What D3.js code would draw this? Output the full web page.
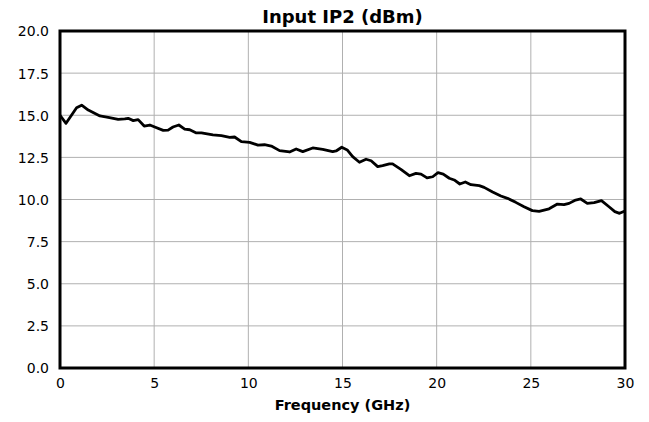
<!DOCTYPE html>
<html>
<head>
<meta charset="utf-8">
<script src="https://cdn.jsdelivr.net/npm/d3@7"></script>
<style>
  body { margin: 0; background: #fff; }
  text { font-family: "DejaVu Sans", sans-serif; }
</style>
</head>
<body>
<div id="chart"></div>
<script>
var svgWidth = 649;
var svgHeight = 422;

var margin = { top: 31, right: 24, bottom: 54, left: 60 };

var width = svgWidth - margin.left - margin.right;
var height = svgHeight - margin.top - margin.bottom;

// data
var freq = [0, 0.32, 0.88, 1.15, 1.5, 2.12, 2.56, 3.09, 3.44, 3.62, 3.89, 4.15, 4.47, 4.77, 5.03,
    5.48, 5.74, 6.0, 6.31, 6.62, 6.89, 7.24, 7.51, 8.12, 8.57, 9.01, 9.27, 9.63, 10.07, 10.51,
    10.86, 11.22, 11.66, 12.19, 12.54, 12.89, 13.42, 13.95, 14.48, 14.66, 14.96, 15.25, 15.54,
    15.9, 16.25, 16.52, 16.87, 17.13, 17.49, 17.66, 18.1, 18.55, 18.9, 19.17, 19.49, 19.79,
    20.07, 20.35, 20.67, 20.93, 21.23, 21.52, 21.82, 22.26, 22.52, 22.97, 23.41, 23.76, 24.2,
    24.64, 25.08, 25.44, 25.97, 26.41, 26.76, 27.03, 27.38, 27.65, 28.0, 28.36, 28.75, 29.15,
    29.46, 29.71, 30.0];
var ip2 = [15.0, 14.52, 15.45, 15.6, 15.31, 14.96, 14.88, 14.76, 14.78, 14.82, 14.68, 14.74, 14.36, 14.42, 14.3,
    14.1, 14.12, 14.3, 14.42, 14.18, 14.14, 13.95, 13.95, 13.83, 13.79, 13.69, 13.71, 13.43, 13.39, 13.23,
    13.25, 13.17, 12.9, 12.82, 13.0, 12.84, 13.06, 12.98, 12.84, 12.88, 13.1, 12.94, 12.54,
    12.21, 12.39, 12.3, 11.95, 12.01, 12.11, 12.11, 11.79, 11.41, 11.55, 11.51, 11.28, 11.35,
    11.59, 11.51, 11.26, 11.16, 10.92, 11.04, 10.88, 10.82, 10.72, 10.45, 10.21, 10.07, 9.83,
    9.57, 9.34, 9.3, 9.45, 9.73, 9.69, 9.77, 9.97, 10.03, 9.77, 9.81, 9.93, 9.57,
    9.28, 9.18, 9.32];
var xTicks = [0, 5, 10, 15, 20, 25, 30];
var yTicks = [0, 2.5, 5, 7.5, 10, 12.5, 15, 17.5, 20];

var chartTitle = "Input IP2 (dBm)";
var xTitle = "Frequency (GHz)";

var svg = d3.select("#chart")
    .append("svg")
    .attr("width", svgWidth)
    .attr("height", svgHeight);

var chartGroup = svg.append("g")
    .attr("transform", `translate(${margin.left}, ${margin.top})`);

var xScale = d3.scaleLinear().domain([0, 30]).range([0, width]);
var yScale = d3.scaleLinear().domain([0, 20]).range([height, 0]);

// grid
chartGroup.append("g")
    .selectAll("line")
    .data(xTicks)
    .enter()
    .append("line")
    .attr("x1", d => xScale(d))
    .attr("x2", d => xScale(d))
    .attr("y1", 0)
    .attr("y2", height)
    .attr("stroke", "#b0b0b0")
    .attr("stroke-width", 1);

chartGroup.append("g")
    .selectAll("line")
    .data(yTicks)
    .enter()
    .append("line")
    .attr("x1", 0)
    .attr("x2", width)
    .attr("y1", d => yScale(d))
    .attr("y2", d => yScale(d))
    .attr("stroke", "#b0b0b0")
    .attr("stroke-width", 1);

// axes
var bottomAxis = d3.axisBottom(xScale).tickValues(xTicks).tickSize(0).tickPadding(10)
    .tickFormat(d3.format("d"));
var leftAxis = d3.axisLeft(yScale).tickValues(yTicks).tickSize(0).tickPadding(11)
    .tickFormat(d3.format(".1f"));

var xAxis = chartGroup.append("g")
    .attr("transform", `translate(0, ${height})`)
    .call(bottomAxis);
var yAxis = chartGroup.append("g")
    .call(leftAxis);

[xAxis, yAxis].forEach(function (ax) {
    ax.select(".domain").remove();
    ax.selectAll("text")
        .attr("font-family", "DejaVu Sans")
        .attr("font-size", "14px")
        .attr("fill", "#000");
});
yAxis.selectAll("text").attr("dy", "0.35em");

// line
var line = d3.line()
    .x((d, i) => xScale(freq[i]))
    .y(d => yScale(d));

chartGroup.append("path")
    .datum(ip2)
    .attr("d", line)
    .attr("fill", "none")
    .attr("stroke", "#000")
    .attr("stroke-width", 2.8)
    .attr("stroke-linejoin", "round");

// frame
chartGroup.append("rect")
    .attr("x", 0)
    .attr("y", 0)
    .attr("width", width)
    .attr("height", height)
    .attr("fill", "none")
    .attr("stroke", "#000")
    .attr("stroke-width", 3);

// titles
svg.append("text")
    .attr("x", margin.left + width / 2)
    .attr("y", 23)
    .attr("text-anchor", "middle")
    .attr("font-size", "18px")
    .attr("font-weight", "bold")
    .text(chartTitle);

svg.append("text")
    .attr("x", margin.left + width / 2)
    .attr("y", 410)
    .attr("text-anchor", "middle")
    .attr("font-size", "14.5px")
    .attr("font-weight", "bold")
    .text(xTitle);
</script>
</body>
</html>
